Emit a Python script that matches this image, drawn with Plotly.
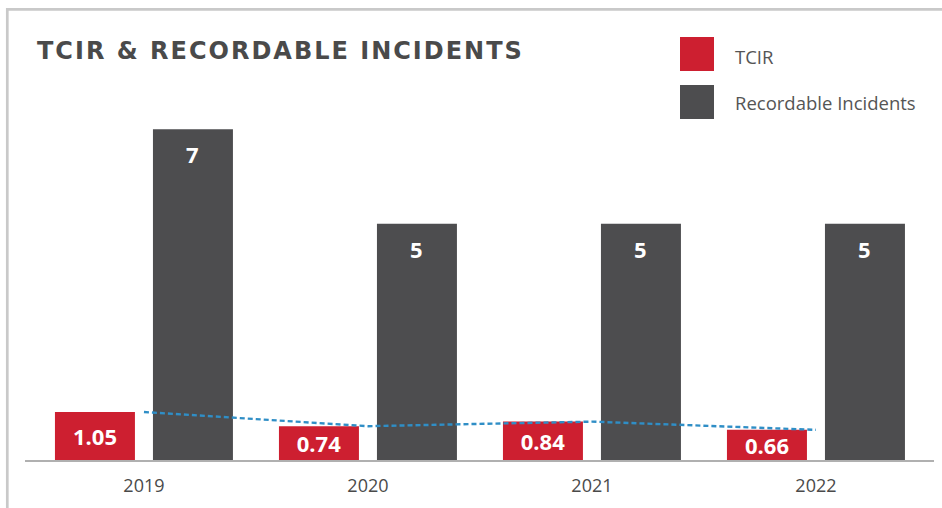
import plotly.graph_objects as go

years = ["2019", "2020", "2021", "2022"]
tcir = [1.05, 0.74, 0.84, 0.66]
recordable = [7, 5, 5, 5]

RED = "#cd1f30"
GRAY = "#4d4d4f"
BLUE = "#2f8ec6"
TXT = "#4a4a4a"

fig = go.Figure()

fig.add_trace(go.Bar(
    x=years, y=tcir, name="TCIR", yaxis="y2",
    marker=dict(color=RED, line=dict(width=0)),
    width=0.3571, offset=-0.3973,
    text=[f"{v:.2f}" for v in tcir], textposition="inside",
    insidetextanchor="middle", textangle=0,
    textfont=dict(color="white", size=22, family="Open Sans", weight="bold"),
    cliponaxis=False,
))
fig.add_trace(go.Bar(
    x=years, y=recordable, name="Recordable Incidents", yaxis="y",
    marker=dict(color=GRAY, line=dict(width=0)),
    width=0.3571, offset=0.0402,
))
fig.add_trace(go.Scatter(
    x=years, y=tcir, yaxis="y2", mode="lines",
    line=dict(color=BLUE, width=2.4, dash="5px,3px"),
    showlegend=False, hoverinfo="skip",
))

annotations = []
for i, v in enumerate(recordable):
    annotations.append(dict(
        x=i, y=v, xref="x", yref="y", text=str(v), showarrow=False,
        xshift=49, yshift=-25, yanchor="middle",
        font=dict(color="white", size=22, family="Open Sans", weight="bold"),
    ))

def px(x):
    return (x - 25) / 909.0

def py(y):
    return (460 - y) / 360.0

annotations.append(dict(
    x=px(35), y=py(51), xref="paper", yref="paper", xanchor="left", yanchor="middle",
    text='<span style="letter-spacing:2px">TCIR & RECORDABLE INCIDENTS</span>', showarrow=False,
    font=dict(color=TXT, size=24, family="DejaVu Sans", weight="bold"),
))
annotations.append(dict(
    x=px(733), y=py(56), xref="paper", yref="paper", xanchor="left", yanchor="middle",
    text="TCIR", showarrow=False,
    font=dict(color="#555555", size=18.5, family="Open Sans"),
))
annotations.append(dict(
    x=px(733), y=py(102), xref="paper", yref="paper", xanchor="left", yanchor="middle",
    text="Recordable Incidents", showarrow=False,
    font=dict(color="#555555", size=18.5, family="Open Sans"),
))

shapes = [
    dict(type="rect", xref="paper", yref="paper", x0=px(680), x1=px(714), y0=py(71), y1=py(37),
         fillcolor=RED, line=dict(width=0)),
    dict(type="rect", xref="paper", yref="paper", x0=px(680), x1=px(714), y0=py(119), y1=py(85),
         fillcolor=GRAY, line=dict(width=0)),
    dict(type="line", xref="paper", yref="paper", x0=px(7.3), x1=px(7.3), y0=py(520), y1=py(8),
         line=dict(color="#c9c9c9", width=2.7)),
    dict(type="line", xref="paper", yref="paper", x0=px(6), x1=px(950), y0=py(9.3), y1=py(9.3),
         line=dict(color="#c9c9c9", width=2.7)),
]

fig.update_layout(
    width=942, height=508,
    margin=dict(l=25, r=8, t=100, b=48),
    paper_bgcolor="white", plot_bgcolor="white",
    barmode="overlay", showlegend=False,
    uniformtext=dict(minsize=22, mode="show"),
    xaxis=dict(type="category", range=[-0.531, 3.527], showgrid=False, zeroline=False,
               showline=True, linecolor="#b0b0b0", linewidth=2,
               ticks="", ticklabelstandoff=8,
               tickfont=dict(color=TXT, size=18, family="Open Sans")),
    yaxis=dict(range=[0, 360 / 47.25], visible=False, showgrid=False, zeroline=False),
    yaxis2=dict(range=[0, 360 / 45.7], overlaying="y", visible=False, showgrid=False, zeroline=False),
    annotations=annotations, shapes=shapes,
)

fig.write_html("out.html", config={"displayModeBar": False},
               post_script="document.body.style.margin='0';document.body.style.overflow='hidden';")
